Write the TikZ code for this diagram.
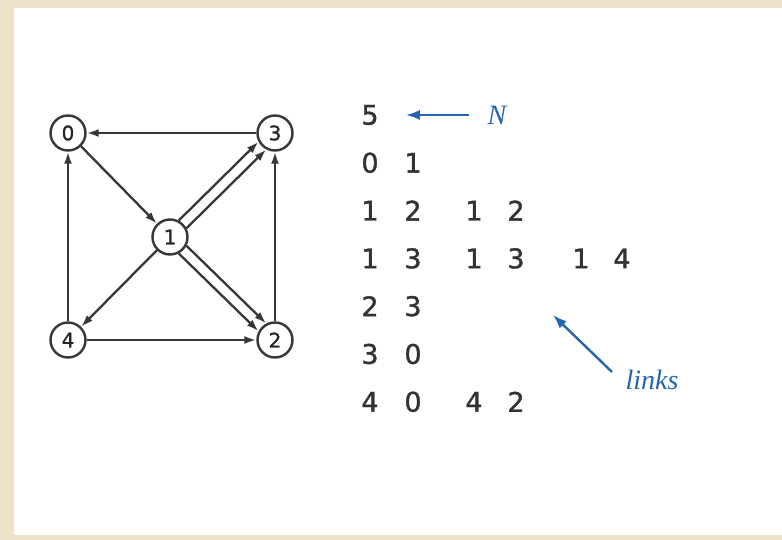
\documentclass[tikz,border=0pt]{standalone}
\usepackage{fontspec}
\usepackage{xcolor}
\usepackage{tikz}
\usetikzlibrary{arrows.meta, calc}
\newfontfamily\digitfont[FakeBold=1.2]{DejaVu Sans}
\newfontfamily\notefont{Liberation Serif}
\definecolor{pagebeige}{RGB}{236, 227, 200}
\definecolor{edgegray}{RGB}{55, 55, 55}
\definecolor{noteblue}{RGB}{36, 100, 176}
\tikzstyle{vertex} = [circle, draw=edgegray, fill=white, line width=2.4pt, minimum size=35pt, inner sep=0pt, font=\digitfont\fontsize{20}{20}\selectfont, text=black!85]
\tikzstyle{link} = [-{Latex[length=12pt, width=8pt]}, line width=2.3pt, edgegray]
\tikzstyle{entry} = [inner sep=0pt, font=\digitfont\fontsize{27}{27}\selectfont, text=black!80]
\tikzstyle{note} = [inner sep=0pt, font=\notefont\itshape\fontsize{28}{28}\selectfont, text=noteblue]
\tikzstyle{pointer} = [-{Latex[length=14pt, width=10pt]}, line width=2.4pt, noteblue]

\begin{document}
\begin{tikzpicture}[x=1pt, y=-1pt]
    % Page and sheet
    \fill[pagebeige] (0,0) rectangle (782,540);
    \fill[white] (14,8) rectangle (782,535);

    % Vertices
    \node[vertex] (v0) at (68,133) {0};
    \node[vertex] (v3) at (275,133) {3};
    \node[vertex] (v1) at (170,237) {1};
    \node[vertex] (v4) at (68,340) {4};
    \node[vertex] (v2) at (275,340) {2};

    % Links
    \draw[link] (v3) -- (v0);
    \draw[link] (v0) -- (v1);
    \draw[link] (v1.62) -- (v3.208);
    \draw[link] (v1.28) -- (v3.242);
    \draw[link] (v1.332) -- (v2.118);
    \draw[link] (v1.298) -- (v2.152);
    \draw[link] (v1) -- (v4);
    \draw[link] (v4) -- (v2);
    \draw[link] (v4) -- (v0);
    \draw[link] (v2) -- (v3);

    % Input file
    \foreach \c/\r/\d in {0/0/5, 0/1/0, 1/1/1, 0/2/1, 1/2/2, 2/2/1, 3/2/2,
                          0/3/1, 1/3/3, 2/3/1, 3/3/3, 4/3/1, 5/3/4,
                          0/4/2, 1/4/3, 0/5/3, 1/5/0, 0/6/4, 1/6/0, 2/6/4, 3/6/2} {
        \pgfmathsetmacro{\xpos}{{370,413,474,516,581,622}[\c]}
        \pgfmathsetmacro{\ypos}{115+47.8*\r}
        \node[entry] (e\r\c) at (\xpos,\ypos) {\d};
    }

    % Notes
    \node[note] (nlab) at (497,115) {N};
    \draw[pointer, shorten <=18pt, shorten >=27pt] (nlab.west) -- (e00.east);
    \node[note] (lnk) at (652,380) {links};
    \coordinate (lnktail) at (612,372);
    \coordinate (lnktip) at (553,315);
    \draw[pointer] (lnktail) -- (lnktip);
\end{tikzpicture}
\end{document}
